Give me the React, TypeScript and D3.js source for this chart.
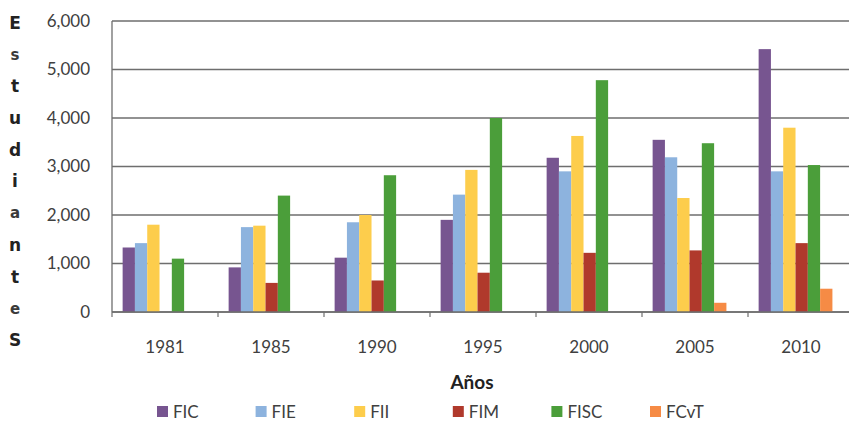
import React from "react";
import * as d3 from "d3";

const categories = ["1981", "1985", "1990", "1995", "2000", "2005", "2010"];
const seriesNames = ["FIC", "FIE", "FII", "FIM", "FISC", "FCvT"];
const FIC = [1330, 920, 1120, 1900, 3180, 3550, 5420];
const FIE = [1420, 1750, 1850, 2420, 2900, 3190, 2900];
const FII = [1800, 1780, 2000, 2930, 3630, 2350, 3800];
const FIM = [0, 600, 650, 810, 1220, 1270, 1420];
const FISC = [1100, 2400, 2820, 4000, 4780, 3480, 3030];
const FCvT = [0, 0, 0, 0, 0, 190, 480];
const yTicks = [0, 1000, 2000, 3000, 4000, 5000, 6000];
const yTitleLetters = ["E", "s", "t", "u", "d", "i", "a", "n", "t", "e", "S"];
const xTitle = "Años";

const seriesValues: Record<string, number[]> = { FIC, FIE, FII, FIM, FISC, FCvT };
const colors: Record<string, string> = {
  FIC: "#775590",
  FIE: "#8db3de",
  FII: "#fdcd4c",
  FIM: "#b0392c",
  FISC: "#4b9e3a",
  FCvT: "#f68b45",
};

const W = 849;
const H = 428;
const left = 112;
const step = 106;
const font = "Lato, 'Open Sans', sans-serif";

export default function App() {
  const x0 = d3
    .scaleBand<string>()
    .domain(categories)
    .range([left, left + step * categories.length])
    .paddingInner(0)
    .paddingOuter(0);
  const x1 = d3
    .scaleBand<string>()
    .domain(seriesNames)
    .range([0, x0.bandwidth()])
    .paddingInner(0)
    .paddingOuter(1.31)
    .align(0.33);
  const y = d3.scaleLinear().domain([0, 6000]).range([312, 21]);
  const fmt = d3.format(",");

  const legendX = d3
    .scalePoint<string>()
    .domain(seriesNames)
    .range([157, 650]);

  return (
    <svg
      width={W}
      height={H}
      style={{ position: "absolute", left: 0, top: 0, background: "#fff" }}
    >
      <rect x={0} y={0} width={W} height={H} fill="#fff" />
      {yTicks.map((t) => (
        <line
          key={"g" + t}
          x1={left}
          x2={W}
          y1={y(t)}
          y2={y(t)}
          stroke="#6e6e6e"
          strokeWidth={1.3}
        />
      ))}
      {categories.map((c, i) => (
        <g key={c} transform={`translate(${x0(c)},0)`}>
          {seriesNames.map((s) => {
            const v = seriesValues[s][i];
            if (!v) return null;
            return (
              <rect
                key={s}
                x={x1(s)}
                y={y(v)}
                width={x1.bandwidth()}
                height={y(0) - y(v)}
                fill={colors[s]}
              />
            );
          })}
        </g>
      ))}
      <line x1={left} x2={left} y1={y(6000)} y2={y(0)} stroke="#6e6e6e" strokeWidth={1.3} />
      <line x1={left} x2={W} y1={y(0)} y2={y(0)} stroke="#6e6e6e" strokeWidth={1.3} />
      {categories.map((c) => (
        <line
          key={"t" + c}
          x1={x0(c)}
          x2={x0(c)}
          y1={y(0)}
          y2={y(0) + 5}
          stroke="#6e6e6e"
          strokeWidth={1.2}
        />
      ))}
      {yTicks.map((t) => (
        <text
          key={"yl" + t}
          x={90}
          y={y(t)}
          dy="0.35em"
          textAnchor="end"
          fontFamily={font}
          fontSize={17}
          fill="#404040"
        >
          {fmt(t)}
        </text>
      ))}
      {categories.map((c) => (
        <text
          key={"xl" + c}
          x={(x0(c) as number) + x0.bandwidth() / 2}
          y={347}
          dy="0.35em"
          textAnchor="middle"
          fontFamily={font}
          fontSize={17}
          fill="#404040"
        >
          {c}
        </text>
      ))}
      <text
        x={472}
        y={382}
        dy="0.35em"
        textAnchor="middle"
        fontFamily={font}
        fontSize={19}
        fontWeight="bold"
        fill="#222"
      >
        {xTitle}
      </text>
      {yTitleLetters.map((l, i) => (
        <text
          key={"yt" + i}
          x={15}
          y={23 + i * 31.7}
          dy="0.35em"
          textAnchor="middle"
          fontFamily="'DejaVu Sans', Lato, sans-serif"
          fontSize={/[sae]/.test(l) ? 15 : 17}
          fontWeight="bold"
          fill={/[sae]/.test(l) ? "#3a3a3a" : "#222"}
        >
          {l}
        </text>
      ))}
      {seriesNames.map((s) => {
        const lx = legendX(s) as number;
        return (
          <g key={"lg" + s}>
            <rect x={lx} y={406} width={11} height={11} fill={colors[s]} />
            <text
              x={lx + 16}
              y={412}
              dy="0.35em"
              fontFamily={font}
              fontSize={17}
              fill="#404040"
            >
              {s}
            </text>
          </g>
        );
      })}
    </svg>
  );
}
